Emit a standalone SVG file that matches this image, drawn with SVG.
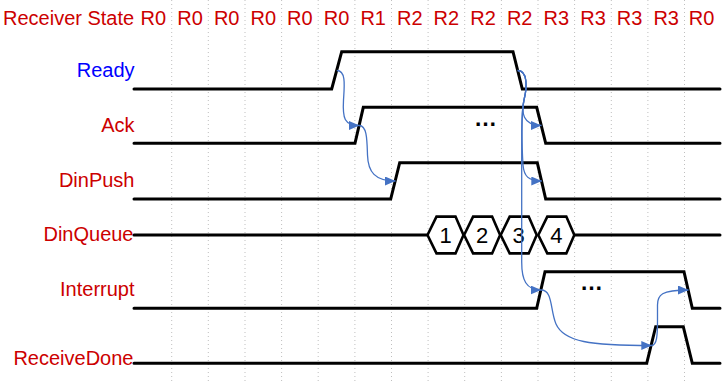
<svg xmlns="http://www.w3.org/2000/svg" width="728" height="382" viewBox="0 0 728 382">
  <style>
    .grid { stroke: #bfbfbf; stroke-width: 1; stroke-dasharray: 1 3; }
    .state { font-family: "Liberation Sans", Arial, sans-serif; font-size: 20px; fill: #cc0000; text-anchor: middle; }
    .name { font-family: "Liberation Sans", Arial, sans-serif; font-size: 20px; fill: #cc0000; text-anchor: end; }
    .wave { fill: none; stroke: #000; stroke-width: 3; stroke-linejoin: miter; stroke-linecap: round; }
    .hex { fill: #fff; stroke: #000; stroke-width: 2.6; stroke-linejoin: miter; }
    .num { font-family: "Liberation Sans", Arial, sans-serif; font-size: 22px; fill: #000; text-anchor: middle; }
    .dots { font-family: "Liberation Sans", Arial, sans-serif; font-size: 23px; font-weight: bold; fill: #000; text-anchor: middle; }
    .link { fill: none; stroke: #4472c4; stroke-width: 1.3; marker-end: url(#tip); }
  </style>
  <defs>
    <marker id="tip" markerUnits="userSpaceOnUse" markerWidth="12" markerHeight="10" refX="10.5" refY="4.5" orient="auto">
      <path d="M0,0 L10.5,4.5 L0,9 z" fill="#4472c4"/>
    </marker>
  </defs>
  <rect width="728" height="382" fill="#fff"/>

  <!-- time grid -->
  <g id="grid">
    <line class="grid" x1="171.7" y1="0" x2="171.7" y2="382"/>
    <line class="grid" x1="208.3" y1="0" x2="208.3" y2="382"/>
    <line class="grid" x1="245.0" y1="0" x2="245.0" y2="382"/>
    <line class="grid" x1="281.6" y1="0" x2="281.6" y2="382"/>
    <line class="grid" x1="318.2" y1="0" x2="318.2" y2="382"/>
    <line class="grid" x1="354.9" y1="0" x2="354.9" y2="382"/>
    <line class="grid" x1="391.5" y1="0" x2="391.5" y2="382"/>
    <line class="grid" x1="428.1" y1="0" x2="428.1" y2="382"/>
    <line class="grid" x1="464.7" y1="0" x2="464.7" y2="382"/>
    <line class="grid" x1="501.4" y1="0" x2="501.4" y2="382"/>
    <line class="grid" x1="538.0" y1="0" x2="538.0" y2="382"/>
    <line class="grid" x1="574.6" y1="0" x2="574.6" y2="382"/>
    <line class="grid" x1="611.3" y1="0" x2="611.3" y2="382"/>
    <line class="grid" x1="647.9" y1="0" x2="647.9" y2="382"/>
    <line class="grid" x1="684.5" y1="0" x2="684.5" y2="382"/>
  </g>

  <!-- receiver state row -->
  <g id="receiver-state">
    <text class="name" x="3" y="25" style="text-anchor:start">Receiver State</text>
    <text class="state" x="153.4" y="25">R0</text>
    <text class="state" x="190.0" y="25">R0</text>
    <text class="state" x="226.7" y="25">R0</text>
    <text class="state" x="263.3" y="25">R0</text>
    <text class="state" x="299.9" y="25">R0</text>
    <text class="state" x="336.6" y="25">R0</text>
    <text class="state" x="373.2" y="25">R1</text>
    <text class="state" x="409.8" y="25">R2</text>
    <text class="state" x="446.4" y="25">R2</text>
    <text class="state" x="483.1" y="25">R2</text>
    <text class="state" x="519.7" y="25">R2</text>
    <text class="state" x="556.3" y="25">R3</text>
    <text class="state" x="593.0" y="25">R3</text>
    <text class="state" x="629.6" y="25">R3</text>
    <text class="state" x="666.2" y="25">R3</text>
    <text class="state" x="701.5" y="25">R0</text>
  </g>

  <g id="ready">
    <text class="name" x="134.5" y="77.3" style="fill:#0000ff">Ready</text>
    <polyline class="wave" points="134,89 331.7,89 341.7,51.7 513,51.7 522.3,89 720,89"/>
  </g>

  <g id="ack">
    <text class="name" x="134.5" y="132.3">Ack</text>
    <polyline class="wave" points="134,143.3 355,143.3 363.3,107.3 536.7,107.3 545.7,143.3 720,143.3"/>
    <text class="dots" x="485.5" y="125.8">…</text>
  </g>

  <g id="dinpush">
    <text class="name" x="134.5" y="187.3">DinPush</text>
    <polyline class="wave" points="134,199 390.7,199 399.7,162.7 537.3,162.7 545.7,199 720,199"/>
  </g>

  <g id="dinqueue">
    <text class="name" x="133.5" y="241">DinQueue</text>
    <line class="wave" x1="134" y1="235" x2="428" y2="235"/>
    <line class="wave" x1="574" y1="235" x2="720" y2="235"/>
    <polygon class="hex" points="427.5,235 436.5,216.6 455.5,216.6 463.5,235 455.5,253.4 436.5,253.4"/>
    <polygon class="hex" points="464.1,235 473.1,216.6 492.1,216.6 500.1,235 492.1,253.4 473.1,253.4"/>
    <polygon class="hex" points="500.7,235 509.7,216.6 528.7,216.6 536.7,235 528.7,253.4 509.7,253.4"/>
    <polygon class="hex" points="538.3,235 547.3,216.6 566.3,216.6 574.3,235 566.3,253.4 547.3,253.4"/>
    <text class="num" x="445.5" y="243">1</text>
    <text class="num" x="482.1" y="243">2</text>
    <text class="num" x="518.7" y="243">3</text>
    <text class="num" x="556.3" y="243">4</text>
  </g>

  <g id="interrupt">
    <text class="name" x="134.5" y="296">Interrupt</text>
    <polyline class="wave" points="134,308.3 536.7,308.3 545,271.7 684,271.7 692.3,308.3 720,308.3"/>
    <text class="dots" x="591.5" y="290.3">…</text>
  </g>

  <g id="receivedone">
    <text class="name" x="133.5" y="365">ReceiveDone</text>
    <polyline class="wave" points="134,363.3 646.7,363.3 655.7,326.7 683.3,326.7 692.3,363.3 720,363.3"/>
  </g>

  <!-- causality links between edges -->
  <g id="connectors">
    <path class="link" d="M336.8,70.5 C346,70.5 344.5,85 343.5,100 C342.5,118 344,125.5 359.5,125.5"/>
    <path class="link" d="M359.2,125.5 C367,125.5 367,140 367.5,155 C368,172 375,181 395.5,181"/>
    <path class="link" d="M517.7,70.5 C528,70.5 527,88 524,100 C521.5,112 522,125.5 541.5,125.5"/>
    <path class="link" d="M517.7,70.5 C528,70.5 527,88 524,100 C521,113 522,150 523,165 C524,176 528,181 541.8,181"/>
    <path class="link" d="M517.7,70.5 C528,70.5 527,88 524,100 C521.5,111 521.7,125 521.7,140 L521.7,262 C521.7,280 526,290 541.2,290"/>
    <path class="link" d="M541,290 C553,290 550,310 556,324 C564,342 590,345.5 651.8,345.5"/>
    <path class="link" d="M651.5,345.5 C657,345.5 657.5,335 657.5,320 L657.5,305 C657.5,295 661,290 688.5,290"/>
  </g>
</svg>
